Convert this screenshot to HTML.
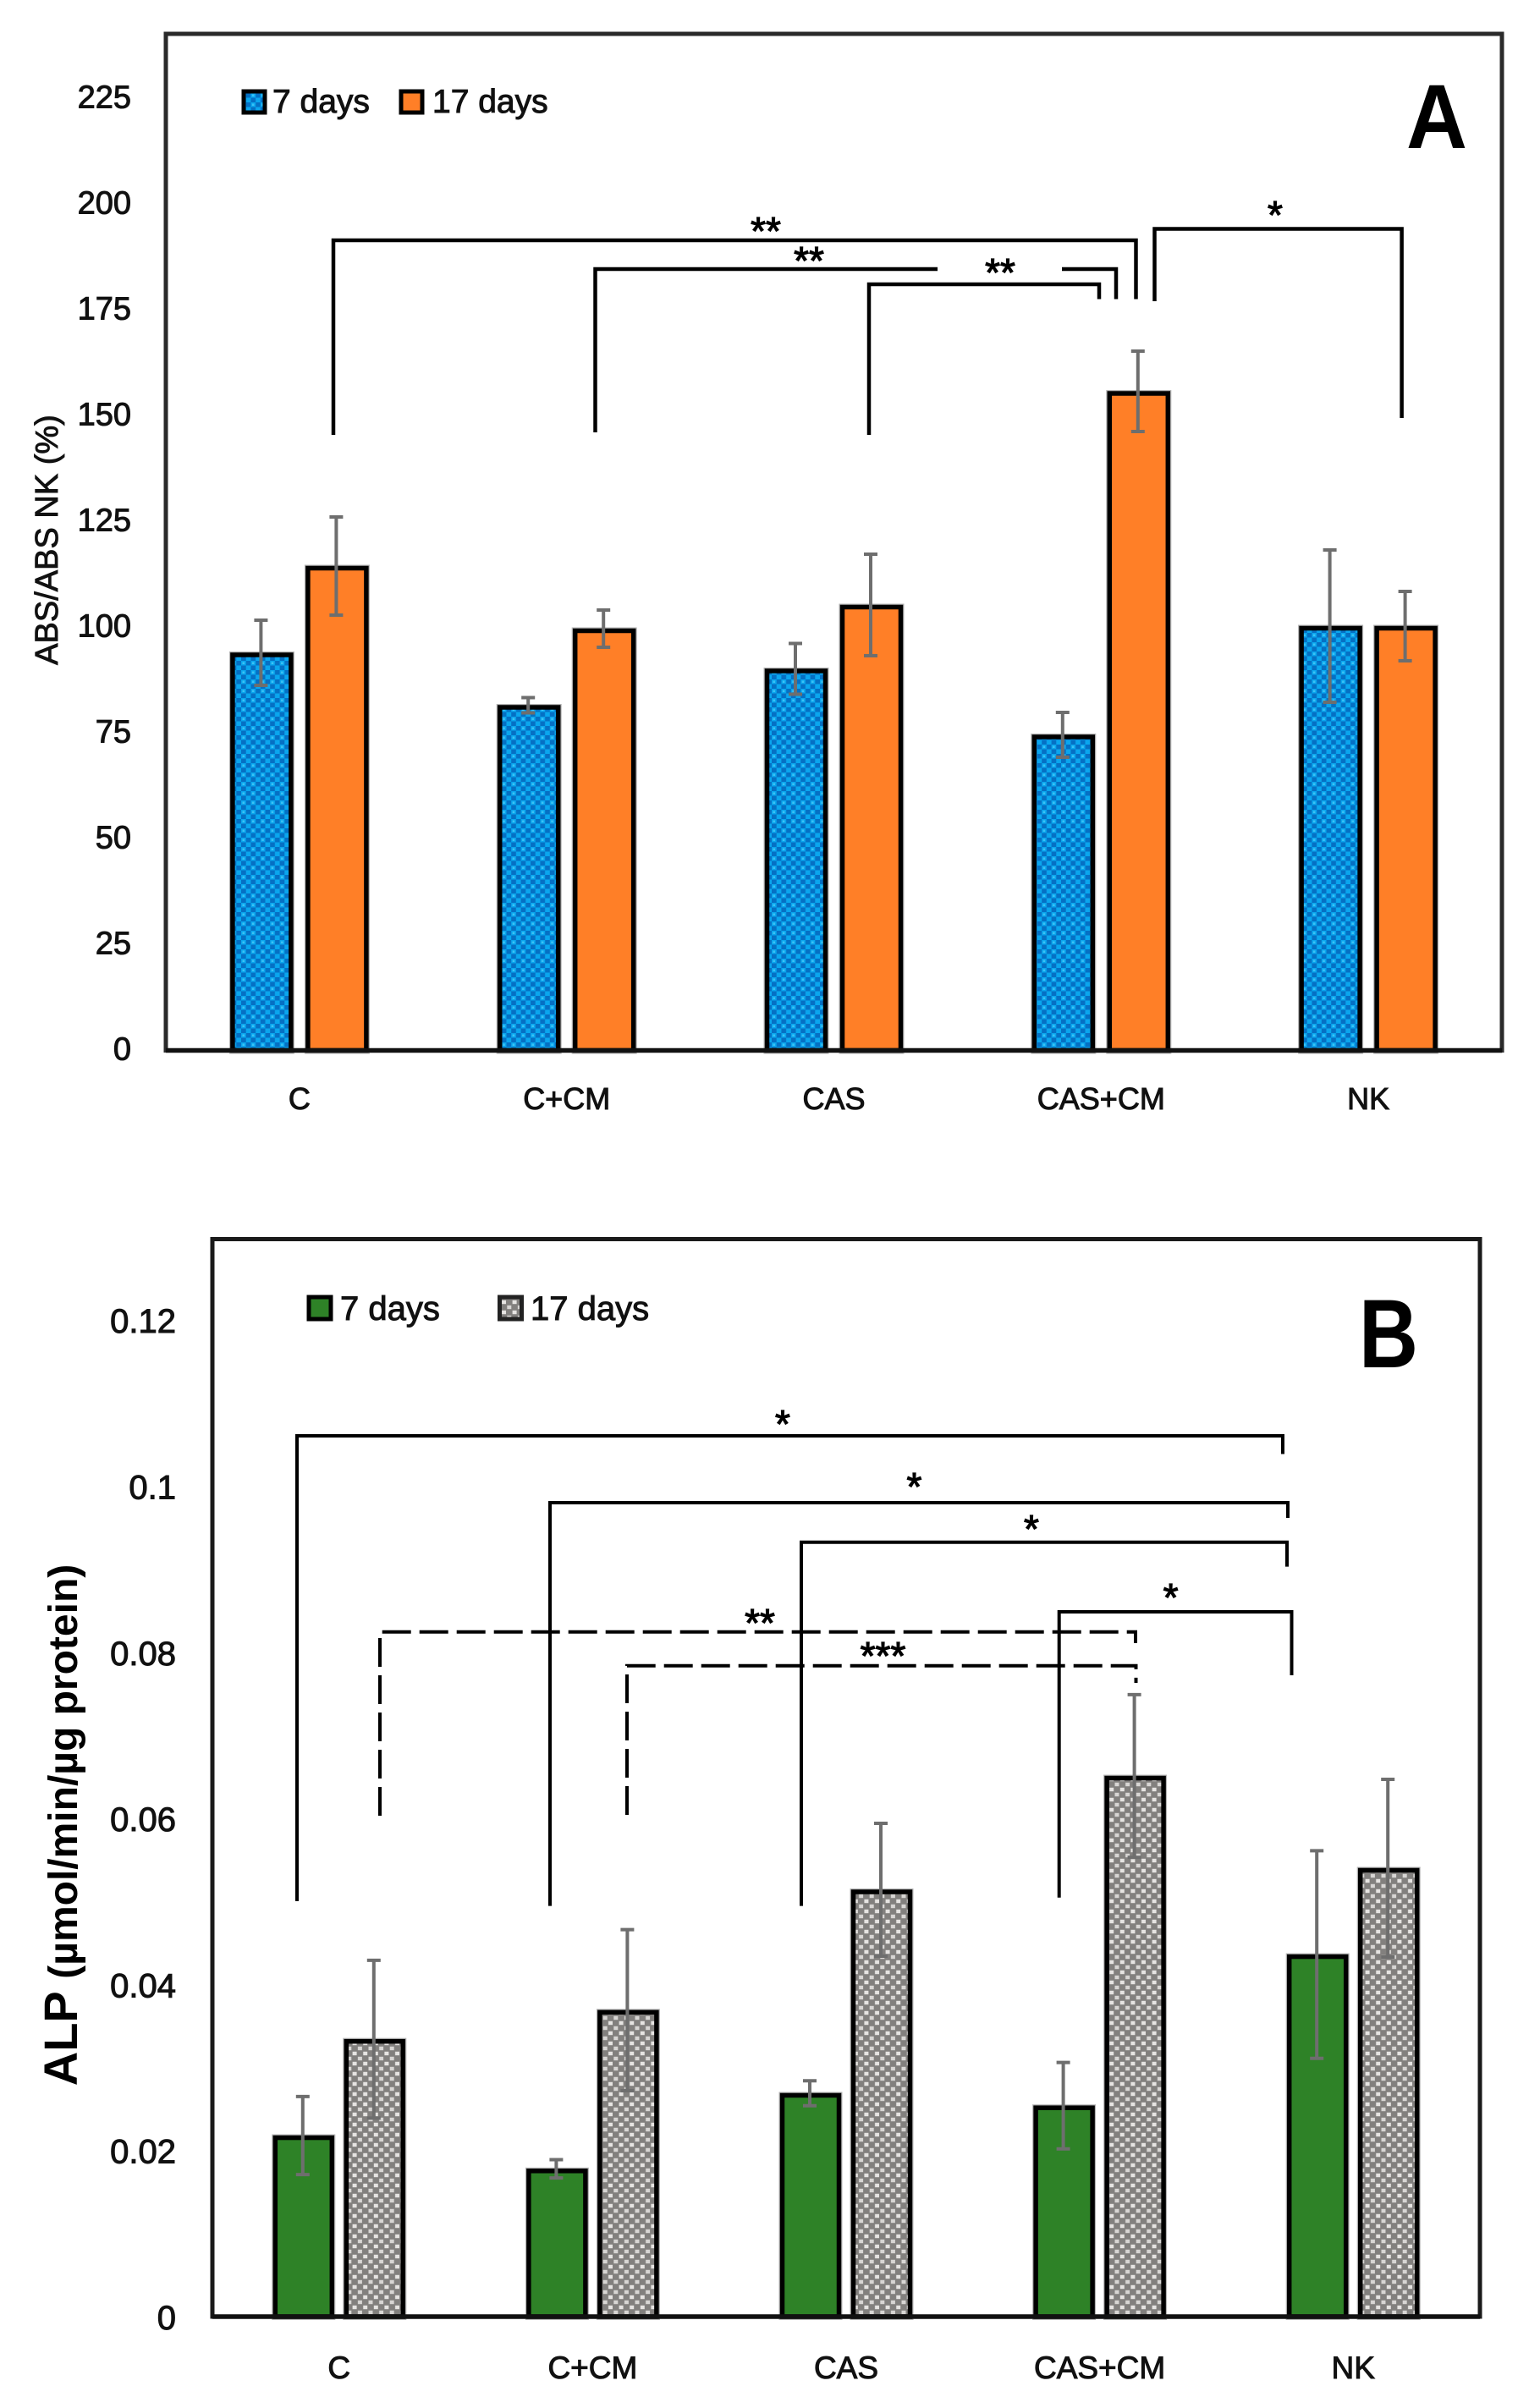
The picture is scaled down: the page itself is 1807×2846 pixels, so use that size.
<!DOCTYPE html>
<html lang="en">
<head>
<meta charset="utf-8">
<title>ABS and ALP bar charts</title>
<style>
html,body{margin:0;padding:0;background:#fff;}
svg{display:block;}
text{font-family:"Liberation Sans",sans-serif;fill:#111;}
.tick{font-size:38px;text-anchor:end;stroke:#111;stroke-width:1px;}
.cat{font-size:36px;text-anchor:middle;stroke:#111;stroke-width:1px;}
.leg{font-size:39px;stroke:#111;stroke-width:1px;}
.star{font-size:46px;text-anchor:middle;fill:#000;stroke:#000;stroke-width:1.2px;}
.br{fill:none;stroke:#000;stroke-width:4.5;}
.brb{fill:none;stroke:#000;stroke-width:4;}
.dash{fill:none;stroke:#000;stroke-width:4;stroke-dasharray:34 10;}
</style>
</head>
<body>
<svg id="fig" xmlns="http://www.w3.org/2000/svg" width="1807" height="2846" viewBox="0 0 1807 2846">
  <defs>
    <pattern id="pBlue" patternUnits="userSpaceOnUse" width="11.4" height="11">
      <rect width="11.4" height="11" fill="#0570c4"/>
      <rect x="0" y="0" width="5.7" height="5.5" fill="#0aa6ee"/>
      <rect x="5.7" y="5.5" width="5.7" height="5.5" fill="#0aa6ee"/>
      <rect x="1.5" y="1.5" width="2.5" height="2.5" fill="#3cc2f4"/>
    </pattern>
    <pattern id="pGrey" patternUnits="userSpaceOnUse" width="12.6" height="12">
      <rect width="12.6" height="12" fill="#82807e"/>
      <rect x="0.8" y="0.8" width="5" height="4.4" fill="#e6e4e2"/>
      <rect x="7.1" y="6.8" width="5" height="4.4" fill="#d8d6d4"/>
    </pattern>
  </defs>
  <rect width="1807" height="2846" fill="#fff"/>

  <g id="chartA">
    <rect x="196" y="40" width="1579" height="1201.5" fill="#fff" stroke="#2a2a2a" stroke-width="5"/>
    <text class="leg" x="322" y="133">7 days</text>
    <text class="leg" x="511" y="133">17 days</text>
    <rect x="288" y="108" width="25" height="25" fill="url(#pBlue)" stroke="#000" stroke-width="5"/>
    <rect x="474" y="108" width="25" height="25" fill="#ff7f27" stroke="#000" stroke-width="5"/>
    <text transform="translate(68,638) rotate(-90)" text-anchor="middle" font-size="38" stroke="#111" stroke-width=".9">ABS/ABS NK (%)</text>
    <text x="1698" y="175" text-anchor="middle" font-size="108" font-weight="bold" textLength="72" lengthAdjust="spacingAndGlyphs" style="fill:#000">A</text>
    <g id="marksA"></g>
    <path class="br" d="M394 514V284H1342.5V353.5"/>
    <path class="br" d="M703.5 511V318H1108"/>
    <path class="br" d="M1255 318H1319V353.5"/>
    <path class="br" d="M1027 514V336H1299V353.5"/>
    <path class="br" d="M1364.5 356V270.5H1656.6V494"/>
    <text class="star" x="905" y="289">**</text>
    <text class="star" x="956" y="324">**</text>
    <text class="star" x="1182" y="338">**</text>
    <text class="star" x="1507" y="270">*</text>
  </g>

  <g id="chartB">
    <rect x="251" y="1464.5" width="1498" height="1273.5" fill="#fff" stroke="#1a1a1a" stroke-width="5"/>
    <text class="leg" x="402" y="1560" style="font-size:40px">7 days</text>
    <text class="leg" x="627" y="1560" style="font-size:40px">17 days</text>
    <rect x="365" y="1533" width="26" height="26" fill="#2e8227" stroke="#000" stroke-width="5"/>
    <rect x="590.5" y="1533" width="26" height="26" fill="url(#pGrey)" stroke="#222" stroke-width="5"/>
    <text transform="translate(91,2157) rotate(-90)" text-anchor="middle" font-weight="bold" style="fill:#000"><tspan font-size="56">ALP </tspan><tspan font-size="48">(µmol/min/µg protein)</tspan></text>
    <text x="1641" y="1616" text-anchor="middle" font-size="115" font-weight="bold" textLength="70" lengthAdjust="spacingAndGlyphs" style="fill:#000">B</text>
    <g id="marksB"></g>
    <path class="brb" d="M351 2247V1697H1516V1718.5"/>
    <path class="brb" d="M650 2252.6V1776H1522V1794"/>
    <path class="brb" d="M947 2252.6V1822.7H1521V1851.6"/>
    <path class="brb" d="M1251.7 2242.7V1905H1526.5V1980"/>
    <path class="dash" d="M449 2146V1928.7H1342V1942"/>
    <path class="dash" d="M741 2145V1968.7H1342.5V1989"/>
    <text class="star" x="925" y="1699">*</text>
    <text class="star" x="1080.5" y="1773">*</text>
    <text class="star" x="1219" y="1823">*</text>
    <text class="star" x="1383.6" y="1904">*</text>
    <text class="star" x="898" y="1934">**</text>
    <text class="star" x="1043.5" y="1973">***</text>
  </g>
</svg>
<script>
const categories = ['C', 'C+CM', 'CAS', 'CAS+CM', 'NK'];

const ticksA = [0, 25, 50, 75, 100, 125, 150, 175, 200, 225];
const absSeven = [94, 81.6, 90.2, 74.6, 100.3];
const absSeventeen = [114.5, 99.7, 105.3, 155.8, 100.3];
const absSevenErr = [7.7, 1.8, 6, 5.3, 18];
const absSeventeenErr = [11.6, 4.4, 12, 9.5, 8.2];

const ticksB = [0, 0.02, 0.04, 0.06, 0.08, 0.1, 0.12];
const alpSeven = [0.0218, 0.0178, 0.0269, 0.0254, 0.0436];
const alpSeventeen = [0.0334, 0.0369, 0.0514, 0.0651, 0.054];
const alpSevenErr = [0.0047, 0.0011, 0.0015, 0.0052, 0.0125];
const alpSeventeenErr = [0.0095, 0.0097, 0.008, 0.0098, 0.0107];

const NS = 'http://www.w3.org/2000/svg';
function mk(tag, parent) {
  const el = document.createElementNS(NS, tag);
  parent.appendChild(el);
  return el;
}
function slug(s) {
  return String(s).toLowerCase().replace(/\+/g, '-').replace(/\./g, '-');
}

function drawChart(cfg) {
  const host = document.getElementById(cfg.host);
  const yOf = v => cfg.y0 - v * cfg.yScale;
  const xOf = i => cfg.x0 + cfg.band * (i + 0.5);

  cfg.ticks.forEach(t => {
    const el = mk('text', host);
    
    
    el.setAttribute('class', 'tick');
    el.setAttribute('x', cfg.tickX);
    el.setAttribute('y', yOf(t) + cfg.tickDy);
    el.setAttribute('style', 'font-size:' + cfg.tickSize + 'px');
    el.textContent = t;
  });

  categories.forEach((c, i) => {
    const el = mk('text', host);
    
    
    el.setAttribute('class', 'cat');
    el.setAttribute('x', xOf(i));
    el.setAttribute('y', cfg.catY);
    el.setAttribute('style', 'font-size:' + cfg.catSize + 'px');
    el.textContent = c;
  });

  cfg.series.forEach((s, si) => {
    const off = si === 0 ? -cfg.offset : cfg.offset;
    s.values.forEach((v, i) => {
      const cx = xOf(i) + off;
      const top = yOf(v) + 2.5;
      const halo = mk('rect', host);
      
      
      halo.setAttribute('x', cx - cfg.barW / 2 + 2.5);
      halo.setAttribute('y', top);
      halo.setAttribute('width', cfg.barW - 5);
      halo.setAttribute('height', cfg.y0 - top);
      halo.setAttribute('fill', 'none');
      halo.setAttribute('stroke', '#b4b4b4');
      halo.setAttribute('stroke-width', '8');
      const bar = mk('rect', host);
      
      
      bar.setAttribute('x', cx - cfg.barW / 2 + 2.5);
      bar.setAttribute('y', top);
      bar.setAttribute('width', cfg.barW - 5);
      bar.setAttribute('height', cfg.y0 - top);
      bar.setAttribute('fill', s.fill);
      bar.setAttribute('stroke', '#000');
      bar.setAttribute('stroke-width', '5.5');
    });
  });

  const axis = mk('line', host);
  
  
  axis.setAttribute('x1', cfg.x0);
  axis.setAttribute('x2', cfg.x0 + cfg.band * categories.length);
  axis.setAttribute('y1', cfg.y0);
  axis.setAttribute('y2', cfg.y0);
  axis.setAttribute('stroke', '#111');
  axis.setAttribute('stroke-width', '5.5');

  cfg.series.forEach((s, si) => {
    const off = si === 0 ? -cfg.offset : cfg.offset;
    s.values.forEach((v, i) => {
      const cx = xOf(i) + off - 1;
      const hi = yOf(v + s.errs[i]);
      const lo = yOf(v - s.errs[i]);
      const d = 'M' + cx + ' ' + hi + 'V' + lo +
        'M' + (cx - 8) + ' ' + hi + 'H' + (cx + 8) +
        'M' + (cx - 8) + ' ' + lo + 'H' + (cx + 8);
      const err = mk('path', host);
      
      
      err.setAttribute('d', d);
      err.setAttribute('fill', 'none');
      err.setAttribute('stroke', '#6e6e6e');
      err.setAttribute('stroke-width', '4');
    });
  });
}

drawChart({
  id: 'a', host: 'marksA', ticks: ticksA,
  y0: 1241.5, yScale: 5, x0: 196, band: 315.8, offset: 44.5, barW: 74,
  tickX: 155, tickDy: 11, tickSize: 38, catY: 1311, catSize: 36,
  series: [
    { key: '7-days', values: absSeven, errs: absSevenErr, fill: 'url(#pBlue)' },
    { key: '17-days', values: absSeventeen, errs: absSeventeenErr, fill: '#ff7f27' }
  ]
});

drawChart({
  id: 'b', host: 'marksB', ticks: ticksB,
  y0: 2738, yScale: 9815, x0: 251, band: 299.6, offset: 42, barW: 72,
  tickX: 208, tickDy: 15, tickSize: 40, catY: 2811, catSize: 37,
  series: [
    { key: '7-days', values: alpSeven, errs: alpSevenErr, fill: '#2e8227' },
    { key: '17-days', values: alpSeventeen, errs: alpSeventeenErr, fill: 'url(#pGrey)' }
  ]
});
</script>
</body>
</html>
